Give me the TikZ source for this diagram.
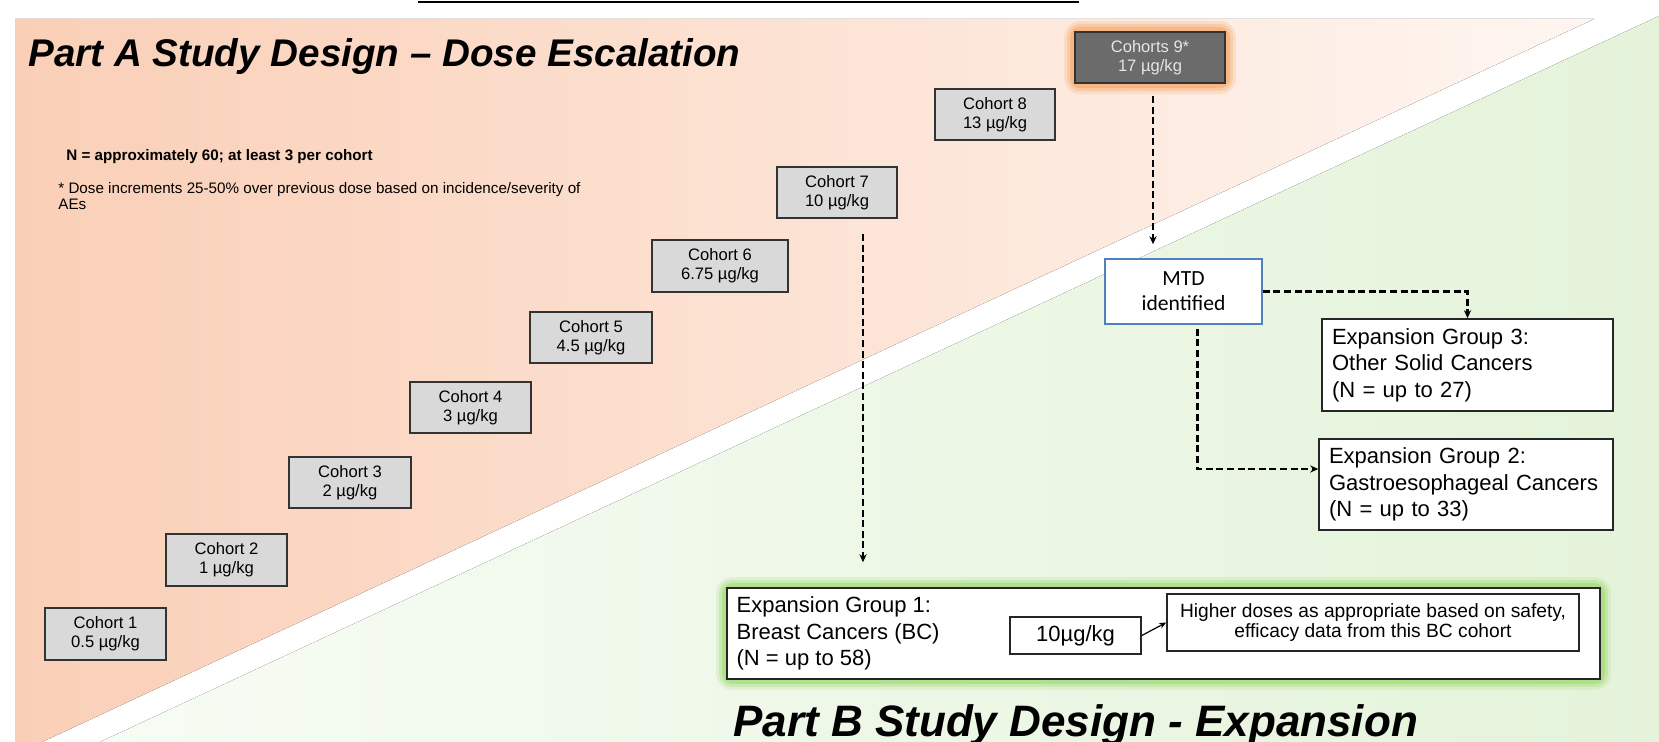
\documentclass[tikz,border=0pt]{standalone}
\usepackage{fontspec}
\setmainfont{Liberation Sans}
\newfontfamily\mtdfont{Carlito}
\usepackage{tikz}
\usetikzlibrary{arrows.meta,positioning,calc,backgrounds}
\tikzset{
  >=Stealth,
  every node/.append style={inner sep=0pt},
}
\tikzset{
  cohortbox/.style={draw=black!80, fill=black!15, line width=0.8pt, align=center, minimum height=25.75pt, font=\fontsize{8.3}{9.7}\selectfont},
  topcohort/.style={fill=black!58, text=black!10},
  mtdbox/.style={draw=mtdblue, fill=white, line width=0.8pt, align=center, minimum width=78.5pt, minimum height=32.5pt, font=\mtdfont\fontsize{10.8}{12.5}\selectfont},
  groupbox/.style={draw=black!85, fill=white, line width=0.8pt, align=left, inner xsep=5pt, font=\fontsize{11}{13.3}\selectfont},
  grouptext/.style={align=left, font=\fontsize{11}{13.3}\selectfont},
  dosebox/.style={draw=black!85, fill=white, line width=0.8pt, align=center, font=\fontsize{11}{13}\selectfont},
  parttitle/.style={anchor=base west, font=\bfseries\itshape\fontsize{19.3}{23}\selectfont},
  notetext/.style={anchor=base west, align=left, font=\fontsize{7.6}{8}\selectfont},
  dasharrow/.style={-{Stealth[length=4pt,width=3.6pt]}, line width=1.1pt, dash pattern=on 3.5pt off 1.8pt}
}

\begin{document}
\begin{tikzpicture}[x=0.5pt, y=-0.5pt]
% Color definitions
\definecolor{peachdeep}{RGB}{250,207,183}
\definecolor{peachpale}{RGB}{254,246,241}
\definecolor{greenpale}{RGB}{247,252,244}
\definecolor{greendeep}{RGB}{228,243,218}
\definecolor{mtdblue}{RGB}{79,129,189}
\definecolor{glowamber}{RGB}{246,158,88}
\definecolor{glowlime}{RGB}{150,215,100}

\useasboundingbox (0,0) rectangle (1659,742);

% Titles and notes
\node[parttitle] (titleA) at (28,67) {Part A Study Design – Dose Escalation};
\node[parttitle, font=\bfseries\itshape\fontsize{22}{26}\selectfont] (titleB) at (733,736) {Part B Study Design - Expansion};
\node[notetext, font=\bfseries\fontsize{7.6}{8}\selectfont] (ncount) at (66,161) {N = approximately 60; at least 3 per cohort};
\node[notetext] (nincr) at (58,210) {* Dose increments 25-50\% over previous dose based on incidence/severity of\\AEs};

% Part A: dose escalation cohorts
\foreach \i/\px/\py/\w/\dose in {1/105.5/634/60.5/0.5, 2/226.5/560/60.5/1, 3/350/482.5/61/2, 4/470.5/407.5/60.5/3, 5/591/337.5/61/4.5, 6/720/266/68/6.75, 7/837/192.5/60/10, 8/995/114.5/60/13}
  \node[cohortbox, minimum width=\w pt] (c\i) at (\px,\py) {Cohort \i\\\dose{} µg/kg};
\node[cohortbox, topcohort, minimum width=75pt] (c9) at (1150,57.5) {Cohorts 9*\\17 µg/kg};

% Part B: expansion
\node[mtdbox] (mtd) at (1183.5,291.5) {MTD\\identified};
\node[groupbox, minimum width=145.5pt, minimum height=46pt, text width=135.5pt] (grp3) at (1467.5,365) {Expansion Group 3:\\Other Solid Cancers\\(N = up to 27)};
\node[groupbox, minimum width=147pt, minimum height=45.5pt, text width=137pt] (grp2) at (1466,484.5) {Expansion Group 2:\\Gastroesophageal Cancers\\(N = up to 33)};
\node[groupbox, minimum width=436.5pt, minimum height=45.5pt] (grp1) at (1163.5,633.5) {};
\node[grouptext, anchor=west] (grp1txt) at ([xshift=5pt]grp1.west) {Expansion Group 1:\\Breast Cancers (BC)\\(N = up to 58)};
\node[dosebox, minimum width=65.5pt, minimum height=18.5pt] (dose) at (1075.5,635.5) {10µg/kg};
\node[dosebox, font=\fontsize{9.6}{9.75}\selectfont, minimum width=206pt, minimum height=28.5pt] (higher) at (1373,622.5) {Higher doses as appropriate based on safety,\\efficacy data from this BC cohort};

% Connectors
\draw[dasharrow, shorten <=7.5pt, shorten >=12.5pt] ([xshift=13pt]c7.south) -- ([xshift=13pt]c7.south |- grp1.north);
\draw[dasharrow, shorten <=6pt, shorten >=7pt] ([xshift=1.5pt]c9.south) -- ([xshift=1.5pt]c9.south |- mtd.north);
\draw[dasharrow] (mtd.east) -| (grp3.north);
\draw[dasharrow, shorten <=2pt] ([xshift=7pt]mtd.south) |- ([yshift=7.75pt]grp2.west);
\draw[-{Stealth[length=3.5pt,width=3pt]}, line width=0.6pt] (dose.east) -- (higher.west);

% Background panels and glows
\begin{scope}[on background layer]
  \fill[left color=peachdeep, right color=peachpale] (15,19) -- (1594,19) -- (42,742) -- (15,742) -- cycle;
  \fill[left color=greenpale, right color=greendeep] (100,742) -- (1659,16) -- (1659,742) -- cycle;
  \draw[line width=1pt] (418,2) -- (1079,2);
  \foreach \lw/\op in {10/0.18, 7/0.28, 4/0.45}
    \draw[glowamber, line width=\lw pt, opacity=\op, rounded corners=3pt] (c9.south west) rectangle (c9.north east);
  \foreach \lw/\op in {10/0.18, 7/0.28, 4/0.45}
    \draw[glowlime, line width=\lw pt, opacity=\op, rounded corners=3pt] (grp1.south west) rectangle (grp1.north east);
\end{scope}
\end{tikzpicture}
\end{document}
